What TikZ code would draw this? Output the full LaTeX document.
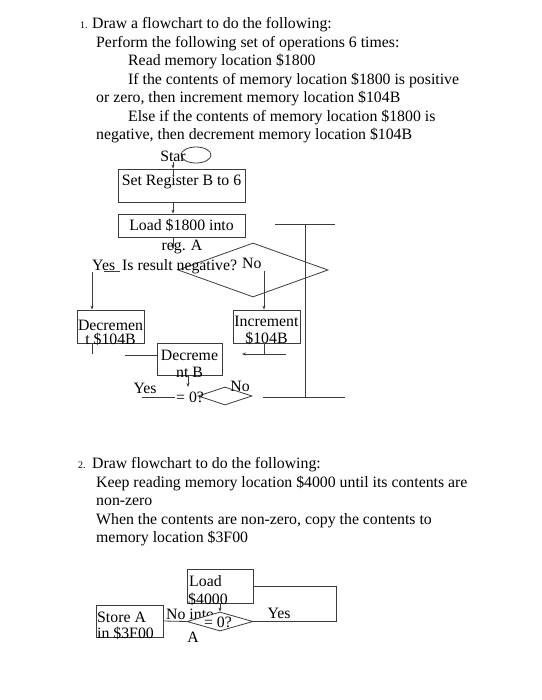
\documentclass[tikz,border=0pt]{standalone}
\usepackage{fontspec}
\setmainfont{Liberation Serif}
\usetikzlibrary{shapes.geometric,arrows.meta}
\definecolor{linec}{RGB}{60,60,60}
\begin{document}
\begin{tikzpicture}[x=1pt,y=-1pt,
  txt/.style={inner sep=0pt, font=\fontsize{15.8}{18}\selectfont, anchor=base west},
  ctxt/.style={inner sep=0pt, font=\fontsize{15.8}{18}\selectfont, anchor=base},
  num/.style={inner sep=0pt, font=\fontsize{10}{12}\selectfont, anchor=base west},
  box/.style={draw=linec, line width=0.8pt, rectangle, inner sep=0pt},
  dia/.style={draw=linec, line width=0.8pt, diamond, inner sep=0pt},
  ln/.style={draw=linec, line width=0.8pt},
  arr/.style={ln, -{Stealth[length=4pt,width=3pt]}}
]
\useasboundingbox (0,0) rectangle (541,700);
\fill[white] (0,0) rectangle (541,700);

% ---- text block 1
\node[num] (n1) at (80,29) {1.};
\node[txt] (t1) at (92,29) {Draw a flowchart to do the following:};
\node[txt] (t2) at (96,48) {Perform the following set of operations 6 times:};
\node[txt] (t3) at (128,66) {Read memory location \$1800};
\node[txt] (t4) at (128,85) {If the contents of memory location \$1800 is positive};
\node[txt] (t5) at (96,103) {or zero, then increment memory location \$104B};
\node[txt] (t6) at (128,122) {Else if the contents of memory location \$1800 is};
\node[txt] (t7) at (96,140) {negative, then decrement memory location \$104B};

% ---- flowchart 1
\node[ln, ellipse, minimum width=30pt, minimum height=16pt, inner sep=0pt] (oval) at (196,155) {};
\node[ctxt] (star) at (173,162) {Star};

\node[box, minimum width=127pt, minimum height=33pt] (setb) at (181.5,185.5) {};
\node[ctxt] (setbt) at (181.5,186) {Set Register B to 6};
\draw[arr] (star.south) -- (star.south |- setb.north);
\draw[ln] (setb.north -| star.south) -- ++(0,8);

\node[box, minimum width=127pt, minimum height=23pt] (load) at (181.5,225.5) {};
\node[ctxt] (loadt) at (181.5,231) {Load \$1800 into};
\draw[arr] (setb.south -| star.south) -- (load.north -| star.south);
\node[ctxt] (rega) at (182,251) {reg. A};
\draw[arr] (load.south -| star.south) -- ++(0,12);

\node[dia, minimum width=150pt, minimum height=54pt] (dec1) at (253,270) {};
\node[txt] (yes1) at (92,270) {Yes};
\coordinate (ul1) at (104,271);
\draw[ln] (ul1) -- ++(16,0);
\node[txt] (q1) at (122,270) {Is result negative?};
\node[txt] (no1) at (242,268) {No};

\node[box, minimum width=67pt, minimum height=33pt] (decr) at (110.5,326.5) {};
\node[ctxt] (decrt1) at (110.5,330) {Decremen};
\node[ctxt] (decrt2) at (110.5,344) {t \$104B};
\coordinate (yd) at (92,272);
\draw[arr] (yd) -- (yd |- decr.north);
\draw[ln] (decr.south -| yd) -- ++(0,11);

\node[box, minimum width=65pt, minimum height=32pt] (decb) at (189.5,359) {};
\node[ctxt] (decbt1) at (189.5,360) {Decreme};
\node[ctxt] (decbt2) at (189.5,377) {nt B};
\coordinate (hl) at (125,355);
\draw[ln] (hl) -- (hl -| decb.west);

\node[box, minimum width=67pt, minimum height=33pt] (incr) at (266.5,326.5) {};
\node[ctxt] (incrt1) at (266.5,326) {Increment};
\node[ctxt] (incrt2) at (266.5,343) {\$104B};
\coordinate (nd) at (264,271);
\draw[arr] (nd) -- (nd |- incr.north);
\draw[ln] (incr.south -| nd) -- ++(0,11);
\coordinate (ha) at (286,354);
\coordinate (hb) at (242,354);
\draw[arr] (ha) -- (hb);

\coordinate (dd) at (188,375);
\draw[arr] (dd) -- ++(0,12);
\node[dia, minimum width=54pt, minimum height=18pt] (dec2) at (225,396) {};
\node[ctxt] (yes2) at (145,393) {Yes};
\coordinate (yl) at (142,397);
\draw[ln] (yl) -- ++(33,0);
\node[txt] (eq1) at (176,402) {= 0?};
\node[ctxt] (no2) at (240,391) {No};

\coordinate (r1) at (263,397);
\coordinate (r2) at (345,397);
\coordinate (v1) at (305,224);
\coordinate (t1a) at (275,224);
\coordinate (t1b) at (335,224);
\draw[ln] (r1) -- (r2);
\draw[ln] (v1) -- (v1 |- r1);
\draw[ln] (t1a) -- (t1b);

% ---- text block 2
\node[num] (n2) at (78,468) {2.};
\node[txt] (s1) at (92,468) {Draw flowchart to do the following:};
\node[txt] (s2) at (96,487) {Keep reading memory location \$4000 until its contents are};
\node[txt] (s3) at (96,505) {non-zero};
\node[txt] (s4) at (96,524) {When the contents are non-zero, copy the contents to};
\node[txt] (s5) at (96,542) {memory location \$3F00};

% ---- flowchart 2
\node[box, minimum width=66pt, minimum height=34pt] (ld) at (220,586) {};
\node[txt] (ldt1) at (189,586) {Load};
\node[txt] (ldt2) at (188,604) {\$4000};
\node[txt] (noint) at (166,619) {No into};
\node[dia, fill=white, minimum width=66pt, minimum height=19pt] (dec3) at (220,621.5) {};
\node[ctxt] (eq2) at (218,627) {= 0?};
\node[ctxt] (a2) at (193,642) {A};
\node[ctxt] (yes3) at (279,618) {Yes};
\draw[arr] (ld.south) -- (dec3.north);
\draw[ln] (ld.east) -- ++(83,0) |- (dec3.east);

\node[box, minimum width=67pt, minimum height=32pt] (st) at (129.5,621) {};
\node[txt] (stt1) at (97,622) {Store A};
\node[txt] (stt2) at (97,638) {in \$3F00};
\draw[ln] (st.east) -- (dec3.west);
\end{tikzpicture}
\end{document}
